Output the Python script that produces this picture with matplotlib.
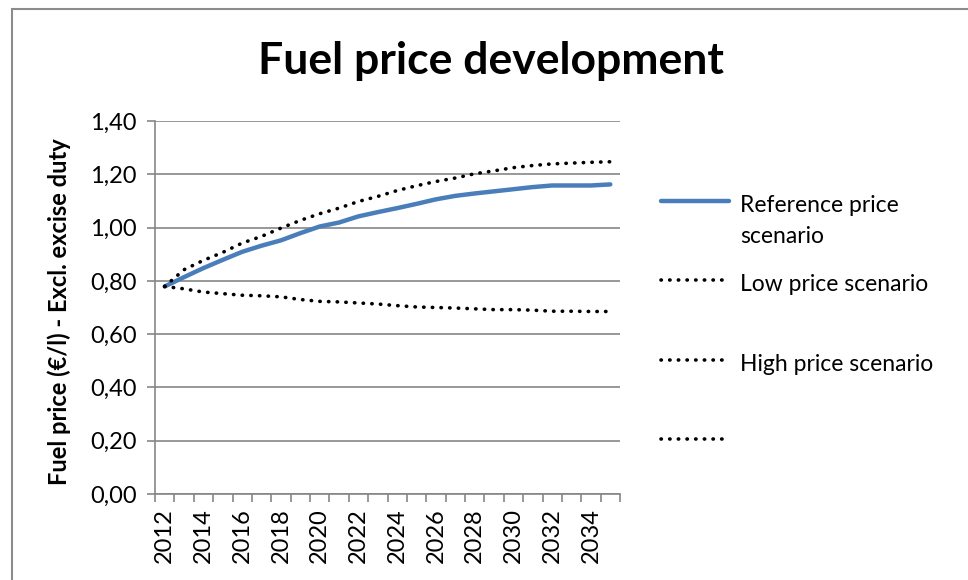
import matplotlib
matplotlib.use("Agg")
import matplotlib.pyplot as plt
from matplotlib.lines import Line2D
from matplotlib.patches import Rectangle
import numpy as np

plt.rcParams['font.family'] = ['Lato', 'DejaVu Sans']

# Data
years = list(range(2012, 2036))
reference = [0.779, 0.814, 0.848, 0.879, 0.909, 0.932, 0.952, 0.979, 1.004, 1.019,
             1.042, 1.058, 1.073, 1.089, 1.106, 1.119, 1.128, 1.136, 1.144, 1.152,
             1.158, 1.158, 1.158, 1.162]
low = [0.779, 0.770, 0.758, 0.752, 0.746, 0.744, 0.740, 0.730, 0.723, 0.721,
       0.717, 0.713, 0.707, 0.702, 0.700, 0.698, 0.695, 0.692, 0.692, 0.690,
       0.686, 0.686, 0.685, 0.685]
high = [0.779, 0.842, 0.877, 0.907, 0.942, 0.967, 0.998, 1.027, 1.052, 1.073,
        1.098, 1.117, 1.139, 1.157, 1.173, 1.186, 1.202, 1.213, 1.225, 1.233,
        1.239, 1.242, 1.245, 1.247]
yticks = [0.0, 0.2, 0.4, 0.6, 0.8, 1.0, 1.2, 1.4]
legend_labels = ["Reference price\nscenario", "Low price scenario", "High price scenario", ""]

W, H = 968, 580
fig = plt.figure(figsize=(W / 100, H / 100), dpi=100)

# outer chart border (only left and top visible in the crop)
fig.add_artist(Rectangle((12 / W, -0.1), 1.2, 1 - 9 / H + 0.1, transform=fig.transFigure,
                         fill=False, edgecolor="#8c8c8c", linewidth=1.5))

ax = fig.add_axes([155 / W, 1 - 494 / H, (620 - 155) / W, (494 - 121) / H])

grid_col = "#868686"
blue = "#4a7ebb"
dot_style = (0, (0.1, 2.3))
dot_lw = 2.6

x = np.arange(len(years))
ax.plot(x, reference, color=blue, linewidth=3.2, solid_capstyle="round", zorder=3)
ax.plot(x, low, color="black", linewidth=dot_lw, linestyle=dot_style,
        dash_capstyle="round", zorder=3)
ax.plot(x, high, color="black", linewidth=dot_lw, linestyle=dot_style,
        dash_capstyle="round", zorder=3)

ax.set_xlim(-0.5, len(years) - 0.5)
ax.set_ylim(0, 1.4)
ax.set_yticks(yticks)
ax.set_yticklabels([f"{v:.2f}".replace(".", ",") for v in yticks], fontsize=17)
ax.yaxis.grid(True, color=grid_col, linewidth=1.2)
ax.set_axisbelow(True)

ax.set_xticks(x[::2])
ax.set_xticklabels([str(y) for y in years[::2]], rotation=90, fontsize=17)
ax.set_xticks(np.arange(-0.5, len(years)), minor=True)
ax.tick_params(axis="x", which="major", length=0, pad=10)
ax.tick_params(axis="x", which="minor", length=6, width=1.2, color=grid_col)
ax.tick_params(axis="y", length=6, width=1.2, color=grid_col, pad=7)

for s in ["top", "right"]:
    ax.spines[s].set_visible(False)
for s in ["left", "bottom"]:
    ax.spines[s].set_color(grid_col)
    ax.spines[s].set_linewidth(1.2)

ax.set_ylabel("Fuel price (€/l) - Excl. excise duty", fontsize=17, fontweight="bold")
ax.yaxis.set_label_coords((71 - 155) / 465, 0.489)

fig.text(491 / W, 1 - 74 / H, "Fuel price development", fontsize=32, fontweight="bold",
         ha="center", va="baseline")

# legend drawn by hand so the handle lines up with the first text line
leg_rows = [201, 280, 360, 439]
leg_styles = [dict(color=blue, linewidth=3.2, solid_capstyle="round"),
              dict(color="black", linewidth=dot_lw, linestyle=dot_style, dash_capstyle="round"),
              dict(color="black", linewidth=dot_lw, linestyle=dot_style, dash_capstyle="round"),
              dict(color="black", linewidth=dot_lw, linestyle=dot_style, dash_capstyle="round")]
for row, label, style in zip(leg_rows, legend_labels, leg_styles):
    yf = 1 - row / H
    fig.add_artist(Line2D([661 / W, 729 / W], [yf, yf], transform=fig.transFigure, **style))
    if label:
        lines = label.split("\n")
        for k, line in enumerate(lines):
            fig.text(740 / W, 1 - (row + 11 + 31 * k) / H, line, fontsize=16.5,
                     ha="left", va="baseline")

fig.savefig("out.png", dpi=100)
